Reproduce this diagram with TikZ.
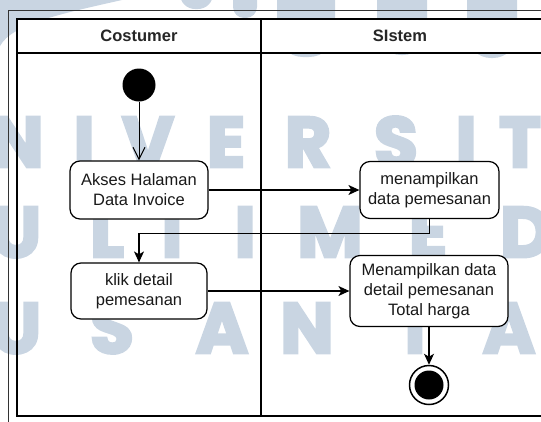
\documentclass[tikz,border=0pt]{standalone}
\usepackage{fontspec}
\setmainfont{Liberation Sans}
\newfontfamily\wmfont{Poppins}[FakeBold=4]
\usetikzlibrary{arrows.meta}
\definecolor{wmgrey}{RGB}{201,213,226}
\begin{document}
\begin{tikzpicture}[x=1pt,y=-1pt,
  txt/.style={font=\fontsize{16.5}{20}\selectfont, text=black!90, align=center},
  hdr/.style={font=\bfseries\fontsize{16.5}{20}\selectfont, text=black!85, inner sep=0pt},
  act/.style={txt, draw, line width=1.2pt, fill=white, rounded corners=10pt, inner sep=0pt},
  flow/.style={line width=1.2pt, -{Stealth[length=11pt,width=10pt,inset=3pt]}},
  openflow/.style={line width=1pt, -{Straight Barb[length=12pt,width=12pt,line width=1pt]}},
  wm/.style={anchor=base, inner sep=0pt, text=wmgrey, font=\wmfont\bfseries\fontsize{71}{71}\selectfont},
  wmbar/.style={fill=wmgrey}
]
\useasboundingbox (0,0) rectangle (541,421);

% background lettering band
\fill[wmbar] (0,0) -- (122,0) .. controls (60,14) and (12,24) .. (0,46) -- cycle;
\fill[wmbar, rounded corners=15pt] (180,-30) rectangle (213,9);
\fill[wmbar, rounded corners=11pt] (233,-30) rectangle (257,18);
\fill[wmbar, rounded corners=26pt] (277,-40) rectangle (335,57);
\fill[wmbar, rounded corners=24pt] (377,-40) rectangle (427,55);
\fill[wmbar, rounded corners=24pt] (467,-40) rectangle (517,58);

\node[wm] (w1) at (17,167) {N};
\node[wm] (w2) at (84,167) {I};
\node[wm] (w3) at (148,167) {V};
\node[wm] (w4) at (226,167) {E};
\node[wm] (w5) at (308,167) {R};
\node[wm] (w6) at (396,167) {S};
\node[wm] (w7) at (466,167) {I};
\node[wm] (w8) at (520,167) {T};

\node[wm] (w9) at (16,257) {U};
\node[wm] (w10) at (107,257) {L};
\node[wm] (w11) at (172,257) {T};
\node[wm] (w12) at (245,257) {I};
\node[wm] (w13) at (330,257) {M};
\node[wm] (w14) at (428,257) {E};
\node[wm] (w15) at (526,257) {D};

\node[wm] (w16) at (16,353) {U};
\node[wm] (w17) at (112,353) {S};
\node[wm] (w18) at (222,353) {A};
\node[wm] (w19) at (307,353) {N};
\node[wm] (w20) at (415,353) {T};
\node[wm] (w21) at (509,353) {A};

% swimlane frame
\fill[white] (17,19) rectangle (543,53);
\draw[line width=0.8pt, black!80] (8,422) -- (8,10) -- (543,10);
\draw[line width=1.2pt] (543,19) -- (17,19) -- (17,416) -- (543,416);
\draw[line width=1.2pt] (17,53) -- (543,53);
\draw[line width=1.2pt] (261,19) -- (261,416);

\node[hdr] (h1) at (139,36) {Costumer};
\node[hdr] (h2) at (400,36) {SIstem};

% activities
\node[circle, fill=black, minimum size=33pt, inner sep=0pt] (start) at (139,85) {};
\node[act, minimum width=138pt, minimum height=58pt] (a1) at (139,190) {Akses Halaman\\Data Invoice};
\node[act, minimum width=139pt, minimum height=57pt] (a2) at (429.5,190) {menampilkan\\data pemesanan};
\node[act, minimum width=136pt, minimum height=56pt] (a3) at (139,291) {klik detail\\pemesanan};
\node[act, minimum width=158pt, minimum height=71pt] (a4) at (429,291) {Menampilkan data\\detail pemesanan\\Total harga};
\node[circle, draw, line width=1.5pt, fill=white, minimum size=39pt, inner sep=0pt] (stop) at (429,385) {};
\node[circle, fill=black, minimum size=29pt, inner sep=0pt] (stopdot) at (stop) {};

% control flow
\draw[openflow] (start) -- (a1);
\draw[flow] (a1.east) -- (a2.west);
\draw[flow] (a2.south) -- ++(0,14) -| (a3.north);
\draw[flow] (a3.east) -- (a4.west);
\draw[flow] (a4.south) -- (stop.north);
\end{tikzpicture}
\end{document}
